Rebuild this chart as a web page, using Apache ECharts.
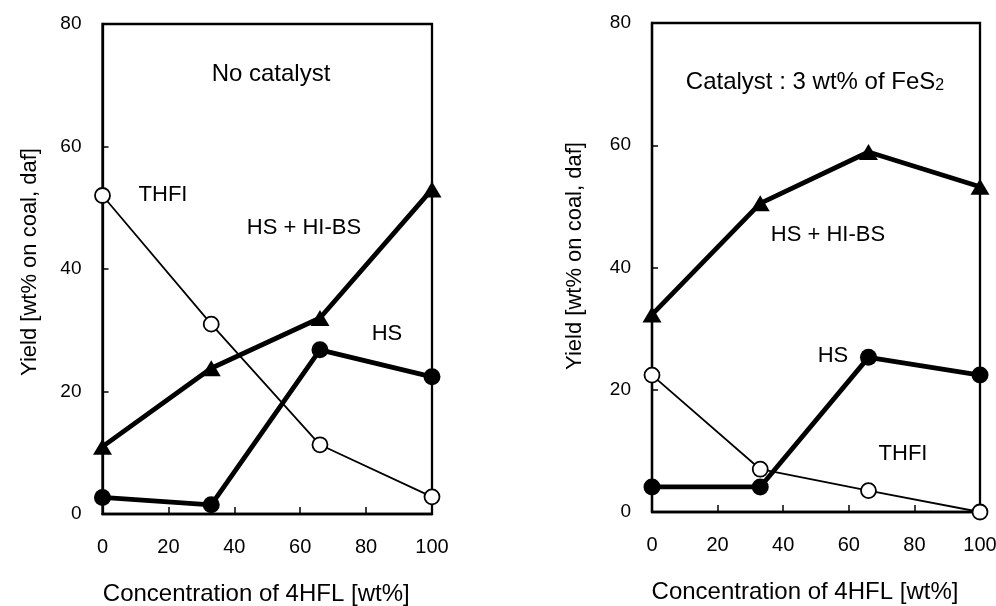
<!DOCTYPE html>
<html>
<head>
<meta charset="utf-8">
<script src="https://cdn.jsdelivr.net/npm/echarts@6/dist/echarts.min.js"></script>
<style>
html,body{margin:0;padding:0;background:#fff;}
#chart{width:996px;height:606px;}
</style>
</head>
<body>
<div id="chart"></div>
<script>
// ---- data ----
var concentration = [0, 33, 66, 100];
// Left panel: No catalyst
var noCatTHFI = [52, 31, 11.3, 2.8];
var noCatHSHIBS = [11, 23.8, 32, 53];
var noCatHS = [2.7, 1.5, 26.8, 22.4];
// Right panel: Catalyst 3 wt% FeS2
var catTHFI = [22.4, 7.0, 3.5, 0];
var catHSHIBS = [32.3, 50.5, 58.9, 53.2];
var catHS = [4.1, 4.1, 25.3, 22.4];
var yTicks = [0, 20, 40, 60, 80];
var xTicks = [0, 20, 40, 60, 80, 100];
var xName = 'Concentration of 4HFL [wt%]';
var yName = 'Yield [wt% on coal, daf]';

function pairs(xs, ys) { return xs.map(function (x, i) { return [x, ys[i]]; }); }

var FONT = 'Arial, "Liberation Sans", sans-serif';

function xAxisCfg(gi) {
  return {
    type: 'value', gridIndex: gi, min: xTicks[0], max: xTicks[xTicks.length - 1], interval: 20,
    name: xName, nameLocation: 'middle', nameGap: 68,
    nameTextStyle: { fontFamily: FONT, fontSize: 24, color: '#000', padding: [0, 22, 0, 0] },
    axisLine: { show: true, onZero: false, lineStyle: { color: '#000', width: 2.3 } },
    axisTick: { show: true, inside: true, length: 7, lineStyle: { color: '#000', width: 1.5 } },
    axisLabel: { fontFamily: FONT, fontSize: 20, color: '#000', margin: 23 },
    splitLine: { show: false }
  };
}
function yAxisCfg(gi, gap, shift) {
  return {
    type: 'value', gridIndex: gi, min: yTicks[0], max: yTicks[yTicks.length - 1], interval: 20,
    name: yName, nameLocation: 'middle', nameGap: gap,
    nameTextStyle: { fontFamily: FONT, fontSize: 22, color: '#000', padding: [0, 0, 0, shift] },
    axisLine: { show: true, onZero: false, lineStyle: { color: '#000', width: 2.3 } },
    axisTick: { show: true, inside: true, length: 6, lineStyle: { color: '#000', width: 1.5 } },
    axisLabel: { fontFamily: FONT, fontSize: 19, color: '#000', margin: 21 },
    splitLine: { show: false }
  };
}
function thfi(gi, ys) {
  return {
    type: 'line', xAxisIndex: gi, yAxisIndex: gi, data: pairs(concentration, ys), clip: false,
    symbol: 'circle', symbolSize: 15, z: 3,
    lineStyle: { color: '#000', width: 1.8 },
    itemStyle: { color: '#fff', borderColor: '#000', borderWidth: 1.8 }
  };
}
function hs(gi, ys) {
  return {
    type: 'line', xAxisIndex: gi, yAxisIndex: gi, data: pairs(concentration, ys), clip: false,
    symbol: 'circle', symbolSize: 17, z: 4,
    lineStyle: { color: '#000', width: 4.8 },
    itemStyle: { color: '#000', borderWidth: 0 }
  };
}
function tri(gi, ys) {
  return {
    type: 'line', xAxisIndex: gi, yAxisIndex: gi, data: pairs(concentration, ys), clip: false,
    symbol: 'triangle', symbolSize: [19, 16], z: 4,
    lineStyle: { color: '#000', width: 4.8 },
    itemStyle: { color: '#000', borderWidth: 0 }
  };
}
function txt(x, y, s, size) {
  return {
    type: 'text', x: x, y: y, z: 10,
    style: { text: s, fontFamily: FONT, fontSize: size, fill: '#000', align: 'center', verticalAlign: 'middle' }
  };
}

var chart = echarts.init(document.getElementById('chart'), null, { renderer: 'canvas' });
chart.setOption({
  animation: false,
  backgroundColor: '#fff',
  grid: [
    { left: 102.5, top: 24, width: 329.5, height: 490, containLabel: false, outerBoundsMode: 'none', show: true, borderColor: '#000', borderWidth: 2.3, backgroundColor: 'transparent' },
    { left: 652, top: 23, width: 328, height: 489, containLabel: false, outerBoundsMode: 'none', show: true, borderColor: '#000', borderWidth: 2.3, backgroundColor: 'transparent' }
  ],
  xAxis: [xAxisCfg(0), xAxisCfg(1)],
  yAxis: [yAxisCfg(0, 62, 14), yAxisCfg(1, 66, 23)],
  series: [
    thfi(0, noCatTHFI), tri(0, noCatHSHIBS), hs(0, noCatHS),
    thfi(1, catTHFI), tri(1, catHSHIBS), hs(1, catHS)
  ],
  graphic: [
    txt(271, 74, 'No catalyst', 24),
    txt(163, 195, 'THFI', 22),
    txt(304, 228, 'HS + HI-BS', 22),
    txt(387, 334, 'HS', 22),
    {
      type: 'text', x: 815, y: 82, z: 10,
      style: {
        text: '{a|Catalyst : 3 wt% of FeS}{s|2}', align: 'center', verticalAlign: 'middle',
        rich: {
          a: { fontFamily: FONT, fontSize: 24, fill: '#000' },
          s: { fontFamily: FONT, fontSize: 16, fill: '#000', verticalAlign: 'bottom' }
        }
      }
    },
    txt(828, 235, 'HS + HI-BS', 22),
    txt(833, 356, 'HS', 22),
    txt(903, 454, 'THFI', 22)
  ]
});
</script>
</body>
</html>
